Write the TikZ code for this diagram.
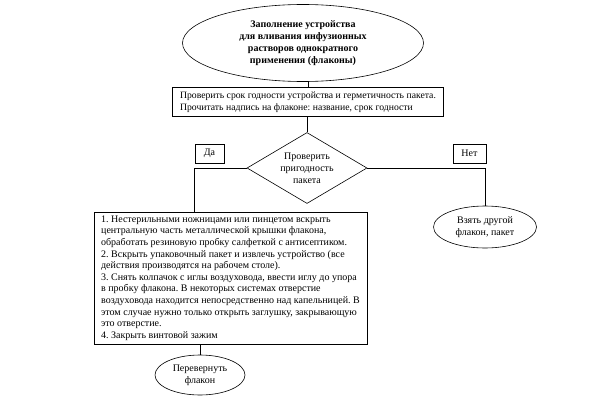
\documentclass[tikz,border=0pt]{standalone}
\usepackage{fontspec}
\setmainfont{Liberation Serif}
\usetikzlibrary{shapes.geometric,positioning}
\frenchspacing

\begin{document}
\begin{tikzpicture}[x=1pt,y=-1pt,line width=0.6pt,font=\fontsize{10}{12}\selectfont,
	oval/.style={draw,ellipse,inner sep=0pt,align=center},
	block/.style={draw,rectangle,inner sep=0pt},
	tag/.style={draw,rectangle,minimum width=29pt,minimum height=19pt,inner sep=0pt}]
	\useasboundingbox (0,0) rectangle (594,404);
	% head
	\node[oval,minimum width=241pt,minimum height=77pt,font=\bfseries\fontsize{10}{12}\selectfont] (title) at (303,43)
		{Заполнение устройства\\для вливания инфузионных\\растворов однократного\\применения (флаконы)};
	\node[block,minimum width=271pt,minimum height=29pt,align=left,font=\fontsize{9.7}{12.5}\selectfont] (check) at (308,102)
		{Проверить срок годности устройства и герметичность пакета.\\Прочитать надпись на флаконе: название, срок годности};
	\node[draw,diamond,aspect=1.66,minimum width=120pt,minimum height=71pt,inner sep=0pt,align=center] (test) at (307,168)
		{Проверить\\пригодность\\пакета};
	\node[tag] (yes) at (209.5,153.5) {Да};
	\node[tag,minimum width=33pt] (no) at (469.5,153.5) {Нет};
	\node[oval,minimum width=103pt,minimum height=42pt] (other) at (485,227) {Взять другой\\флакон, пакет};
	\node[block,minimum width=273pt,minimum height=132pt,align=left,font=\fontsize{10}{11.6}\selectfont] (steps) at (230.5,278)
		{1. Нестерильными ножницами или пинцетом вскрыть\\центральную часть металлической крышки флакона,\\обработать резиновую пробку салфеткой с антисептиком.\\2. Вскрыть упаковочный пакет и извлечь устройство (все\\действия производятся на рабочем столе).\\3. Снять колпачок с иглы воздуховода, ввести иглу до упора\\в пробку флакона. В некоторых системах отверстие\\воздуховода находится непосредственно над капельницей. В\\этом случае нужно только открыть заглушку, закрывающую\\это отверстие.\\4. Закрыть винтовой зажим};
	\node[oval,minimum width=90pt,minimum height=40pt] (flip) at (200,375) {Перевернуть\\флакон};
	% links
	\draw (title.south -| check.north) -- (check.north);
	\draw (test.north) -- (test.north |- check.south);
	\draw (test.west) -| (yes.south west |- steps.north);
	\draw (test.east) -| (other.north);
	\draw (flip.north) -- (flip.north |- steps.south);
\end{tikzpicture}
\end{document}
